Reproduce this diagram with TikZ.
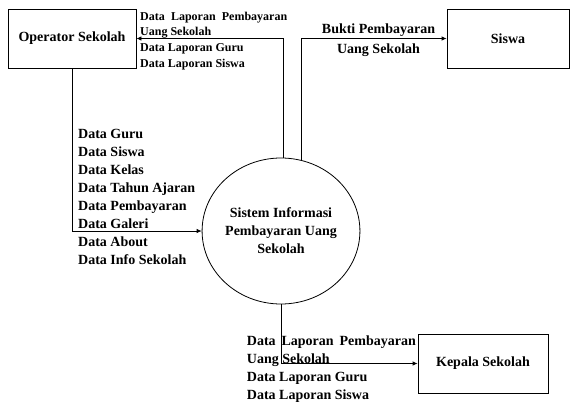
\documentclass[tikz,border=0pt]{standalone}
\usepackage{fontspec}
\setmainfont{Liberation Serif}
\usetikzlibrary{shapes.geometric,arrows.meta}
\begin{document}
\begin{tikzpicture}[x=1pt,y=-1pt,
 entity/.style={draw,line width=0.8pt,rectangle,minimum height=59pt,inner sep=0pt,font=\fontsize{14}{18}\selectfont\bfseries},
 proc/.style={draw,line width=0.8pt,ellipse,minimum width=135pt,minimum height=146pt,inner sep=0pt,align=center,font=\fontsize{14}{18}\selectfont\bfseries},
 flow/.style={line width=0.8pt,-{Latex[length=5pt,width=4.5pt]}},
 lbl/.style={inner sep=0pt,anchor=north west,align=left,font=\fontsize{14}{18}\selectfont\bfseries},
 smalllbl/.style={lbl,font=\fontsize{12}{15.6}\selectfont\bfseries}
]
\useasboundingbox (0,0) rectangle (570,402);
\node[entity,minimum width=128pt] (op) at (72,38.5) {Operator Sekolah};
\node[entity,minimum width=122pt] (siswa) at (508,38.5) {Siswa};
\node[entity,minimum width=130pt] (kepala) at (483,363.5) {Kepala Sekolah};
\node[proc] (sys) at (281,231) {Sistem Informasi\\Pembayaran Uang\\Sekolah};

\draw[flow] (sys.88) -- (sys.88 |- op.east) -- (op.east);
\draw[flow] (sys.74) -- (sys.74 |- siswa.west) -- (siswa.west);
\draw[flow] (op.south) |- (sys.west);
\draw[flow] (sys.south) |- (kepala.west);

\node[smalllbl] (lap1) at (140,11) {\rule{0pt}{9pt}\makebox[147pt][s]{Data Laporan Pembayaran}\\Uang Sekolah\\Data Laporan Guru\\Data Laporan Siswa};
\node[lbl] (datain) at (78,127.3) {\rule{0pt}{11pt}Data Guru\\Data Siswa\\Data Kelas\\Data Tahun Ajaran\\Data Pembayaran\\Data Galeri\\Data About\\Data Info Sekolah};
\node[lbl] (lap2) at (246.7,334.2) {\rule{0pt}{11pt}\makebox[169pt][s]{Data Laporan Pembayaran}\\Uang Sekolah\\Data Laporan Guru\\Data Laporan Siswa};
\node[lbl,anchor=north,align=center,font=\fontsize{14}{19.5}\selectfont\bfseries] (bukti) at (378.5,22.3) {\rule{0pt}{11pt}Bukti Pembayaran\\Uang Sekolah};
\end{tikzpicture}
\end{document}
